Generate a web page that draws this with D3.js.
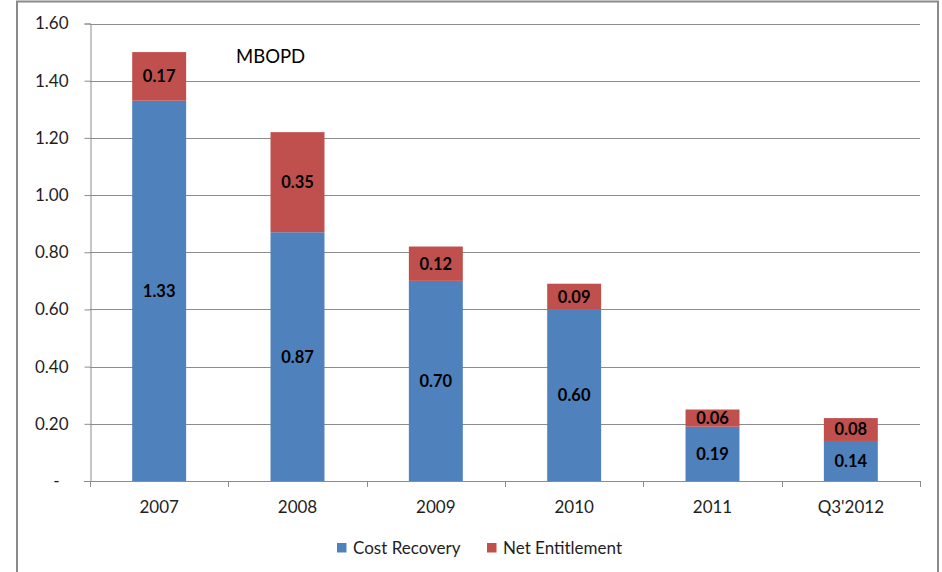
<!DOCTYPE html>
<html>
<head>
<meta charset="utf-8">
<script src="https://cdn.jsdelivr.net/npm/d3@7"></script>
<style>
  body { margin: 0; background: #fff; }
  svg { display: block; font-family: Lato, "Open Sans", sans-serif; }
</style>
</head>
<body>
<svg id="chart" width="942" height="572"></svg>
<script>
// Oil production split, million barrels of oil per day
const categories = ["2007", "2008", "2009", "2010", "2011", "Q3'2012"];
const costRecovery = [1.33, 0.87, 0.70, 0.60, 0.19, 0.14];
const netEntitlement = [0.17, 0.35, 0.12, 0.09, 0.06, 0.08];
const seriesNames = ["Cost Recovery", "Net Entitlement"];
const seriesColors = ["#4F81BD", "#C0504D"];
const yTicks = [0, 0.2, 0.4, 0.6, 0.8, 1.0, 1.2, 1.4, 1.6];
const unitLabel = "MBOPD";

const svg = d3.select("#chart");
const gridColor = "#8c8c8c";
const textColor = "#1e1e1e";

// outer frame
svg.append("rect")
  .attr("x", 17).attr("y", 1.5)
  .attr("width", 921).attr("height", 600)
  .attr("fill", "none").attr("stroke", "#8a8a8a").attr("stroke-width", 2);

const plot = { left: 90, right: 920, top: 23.5, bottom: 481 };

const x = d3.scaleBand()
  .domain(categories)
  .range([plot.left, plot.right])
  .paddingInner(0.61)
  .paddingOuter(0.305);

const y = d3.scaleLinear()
  .domain([0, 1.6])
  .range([plot.bottom, plot.top]);

// horizontal gridlines
svg.append("g")
  .selectAll("line")
  .data(yTicks.filter(d => d > 0))
  .join("line")
  .attr("x1", plot.left).attr("x2", plot.right)
  .attr("y1", d => Math.round(y(d)) + 0.5)
  .attr("y2", d => Math.round(y(d)) + 0.5)
  .attr("stroke", gridColor).attr("stroke-width", 1);

// y axis
const yAxis = svg.append("g")
  .attr("transform", `translate(${plot.left + 0.5},0)`)
  .call(d3.axisLeft(y)
    .tickValues(yTicks)
    .tickSize(6)
    .tickPadding(16)
    .tickFormat(d => d === 0 ? "-" : d3.format(".2f")(d)));
yAxis.select(".domain").attr("stroke", gridColor);
yAxis.selectAll(".tick line").attr("stroke", gridColor);
yAxis.selectAll(".tick text")
  .attr("font-size", 17).attr("fill", textColor)
  .attr("font-family", "Lato, sans-serif");
yAxis.selectAll(".tick").filter(d => d === 0).select("text").attr("dx", -9);

// stacked data
const rows = categories.map((c, i) => ({ cat: c, cost: costRecovery[i], net: netEntitlement[i] }));
const stack = d3.stack().keys(["cost", "net"]);
const layers = stack(rows);

const barGroups = svg.append("g")
  .selectAll("g")
  .data(layers)
  .join("g")
  .attr("fill", (d, i) => seriesColors[i]);

barGroups.selectAll("rect")
  .data(d => d)
  .join("rect")
  .attr("x", d => x(d.data.cat))
  .attr("width", x.bandwidth())
  .attr("y", d => y(d[1]))
  .attr("height", d => y(d[0]) - y(d[1]));

// value labels
barGroups.selectAll("text")
  .data((d, i) => d.map(v => ({ v, key: layers[i].key })))
  .join("text")
  .attr("x", d => x(d.v.data.cat) + x.bandwidth() / 2)
  .attr("y", d => (y(d.v[0]) + y(d.v[1])) / 2)
  .attr("dy", "0.36em")
  .attr("text-anchor", "middle")
  .attr("font-size", 16.5)
  .attr("font-weight", "bold")
  .attr("fill", "#000")
  .text(d => d3.format(".2f")(d.v.data[d.key]));

// x axis labels, baseline and boundary ticks
const xAxis = svg.append("g")
  .attr("transform", `translate(0,${plot.bottom + 0.5})`)
  .call(d3.axisBottom(x).tickSize(0).tickPadding(19));
xAxis.select(".domain").remove();
xAxis.selectAll(".tick text")
  .attr("font-size", 17).attr("fill", textColor)
  .attr("font-family", "Lato, sans-serif");

svg.append("line")
  .attr("x1", plot.left - 6).attr("x2", plot.right)
  .attr("y1", plot.bottom + 0.5).attr("y2", plot.bottom + 0.5)
  .attr("stroke", gridColor);

const boundaries = categories.map(c => x(c) - x.step() * x.paddingInner() / 2)
  .concat([plot.right]);
boundaries[0] = plot.left;
svg.append("g")
  .selectAll("line")
  .data(boundaries)
  .join("line")
  .attr("x1", d => Math.round(d) + 0.5).attr("x2", d => Math.round(d) + 0.5)
  .attr("y1", plot.bottom).attr("y2", plot.bottom + 6)
  .attr("stroke", gridColor);

// unit label
svg.append("text")
  .attr("x", 236).attr("y", 62.5)
  .attr("font-size", 18.5).attr("fill", "#000")
  .text(unitLabel);

// legend
const legend = svg.append("g");
const legendX = [337, 487];
seriesNames.forEach((name, i) => {
  const g = legend.append("g").attr("transform", `translate(${legendX[i]},543)`);
  g.append("rect").attr("width", 9.5).attr("height", 9.5).attr("fill", seriesColors[i]);
  g.append("text")
    .attr("x", 16).attr("y", 10.5)
    .attr("font-size", 17).attr("fill", textColor)
    .text(name);
});
</script>
</body>
</html>
